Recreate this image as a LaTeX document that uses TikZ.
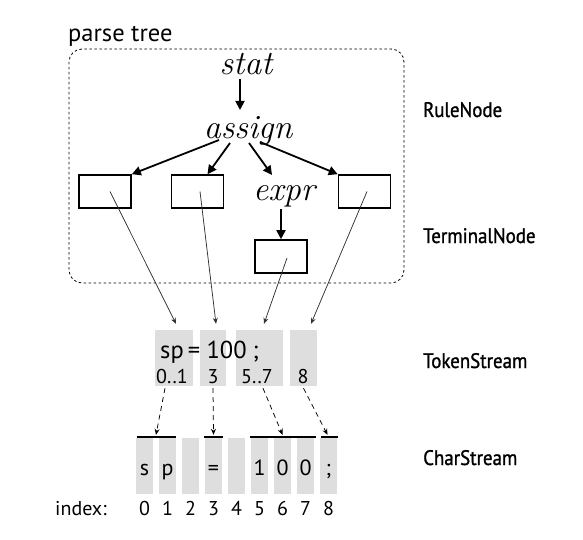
\documentclass[tikz,border=0pt]{standalone}
\usepackage{fontspec}
\setsansfont{PT Sans}
\newfontfamily\condf[FakeStretch=0.9,FakeBold=1.2]{PT Sans}
\usetikzlibrary{arrows.meta,calc}
\begin{document}
\begin{tikzpicture}[x=1pt,y=-1pt,
  lbl/.style={font=\sffamily\fontsize{24.5}{28}\selectfont, inner sep=0pt, anchor=base west},
  side/.style={font=\condf\fontsize{21}{24}\selectfont, inner sep=0pt, anchor=base west},
  rulen/.style={font=\rmfamily\itshape\fontsize{34}{38}\selectfont, inner sep=0pt},
  tnode/.style={draw, line width=1.6pt, minimum width=52pt, minimum height=33pt, inner sep=0pt},
  tarrow/.style={line width=1.8pt, -{Triangle[length=9pt,width=9pt]}},
  thinarr/.style={line width=0.75pt, draw=black!80, -{Stealth[length=6pt,width=5pt]}},
  dasharr/.style={line width=0.75pt, dash pattern=on 5pt off 4pt, -{Stealth[length=6pt,width=5pt]}},
  tokcell/.style={fill=black!13, inner sep=0pt, minimum height=56pt},
  cell/.style={fill=black!13, inner sep=0pt, minimum width=17pt, minimum height=56pt},
  chartxt/.style={font=\sffamily\fontsize{22}{24}\selectfont, inner sep=0pt, anchor=base},
  idx/.style={font=\sffamily\fontsize{20}{22}\selectfont, inner sep=0pt, anchor=base},
  toklbl/.style={font=\sffamily\fontsize{20}{22}\selectfont, inner sep=0pt, anchor=base},
  bar/.style={line width=2pt},
  dbox/.style={line width=0.8pt, dash pattern=on 2.5pt off 2.5pt, rounded corners=13pt}]
\useasboundingbox (0,0) rectangle (583,540);

% parse tree box
\node[lbl] (ptl) at (68,42) {parse tree};
\draw[dbox] (69,49) rectangle (404,283);

% rule nodes
\node[rulen] (stat) at (246,64) {stat};
\node[rulen] (assign) at (248,131) {assign};
\node[rulen] (expr) at (284,196) {expr};

% terminal nodes
\node[tnode] (t1) at (105,191.5) {};
\node[tnode] (t2) at (197.5,191.5) {};
\node[tnode] (t4) at (364.5,191.5) {};
\node[tnode] (t5) at (281,256.5) {};

\draw[tarrow] ($(stat)+(-6,15)$) -- ($(assign)+(-8,-21)$);
\draw[tarrow] ($(assign)+(-29,9)$) -- (t1.north east);
\draw[tarrow] ($(assign)+(-18,12)$) -- ($(t2.north)+(10,0)$);
\draw[tarrow] ($(assign)+(1,12)$) -- ($(expr)+(-12,-21)$);
\draw[tarrow] ($(assign)+(12,11)$) -- (t4.north west);
\draw[tarrow] ($(expr)+(-3,13)$) -- (t5.north);

% side labels
\node[side] (rn) at (423,117) {RuleNode};
\node[side] (tn) at (423,243) {TerminalNode};
\node[side] (ts) at (423,368) {TokenStream};
\node[side] (cs) at (423,465) {CharStream};

% token stream
\node[tokcell, minimum width=38pt] (tk1) at (174,358) {};
\node[tokcell, minimum width=26pt] (tk2) at (213,358) {};
\node[tokcell, minimum width=47pt] (tk3) at (259.5,358) {};
\node[tokcell, minimum width=27pt] (tk4) at (303.5,358) {};
\node[font=\sffamily\fontsize{24.5}{26}\selectfont, inner sep=0pt, anchor=base west] (toktxt) at (160,358) {sp\hspace{4pt}=\hspace{6.5pt}100\hspace{6pt};};
\node[toklbl] (l1) at (172,383) {0..1};
\node[toklbl] (l2) at (213,383) {3};
\node[toklbl] (l3) at (257,383) {5..7};
\node[toklbl] (l4) at (303,383) {8};

\draw[thinarr] ($(t1)+(5,0)$) -- ($(tk1.north)+(2,-6)$);
\draw[thinarr] ($(t2)+(2.5,0)$) -- ($(tk2.north)+(3,-6)$);
\draw[thinarr] ($(t5)+(6,1.5)$) -- ($(tk3.north)+(4.5,-6)$);
\draw[thinarr] ($(t4)+(2.5,0)$) -- ($(tk4.north)+(7.5,-6)$);

% char stream
\foreach \i/\c in {0/s,1/p,2/{},3/=,4/{},5/1,6/0,7/0,8/;} {
  \node[cell] (c\i) at (144.5+23*\i,466) {};
  \node[chartxt] (ct\i) at (144.5+23*\i,475) {\c};
  \node[idx] (ix\i) at (144.5+23*\i,515) {\i};
}
\node[lbl, font=\sffamily\fontsize{20}{22}\selectfont] (idxl) at (55,515) {index:};

\draw[bar] ($(c0.north west)+(1,-1)$) -- ($(c1.north east)+(0,-1)$);
\draw[bar] ($(c3.north west)+(-1,-1)$) -- ($(c3.north east)+(1,-1)$);
\draw[bar] ($(c5.north west)+(-1,-1)$) -- ($(c7.north east)+(2,-1)$);
\draw[bar] ($(c8.north west)+(1,-1)$) -- ($(c8.north east)+(1,-1)$);

\draw[dasharr] ($(tk1.south)+(-9,2)$) -- ($(c0.north east)!0.5!(c1.north west)+(0,-3)$);
\draw[dasharr] ($(tk2.south)+(0,2)$) -- ($(c3.north)+(0,-3)$);
\draw[dasharr] ($(tk3.south)+(3.5,2)$) -- ($(c6.north)+(0,-3)$);
\draw[dasharr] ($(tk4.south)+(0,2)$) -- ($(c8.north)+(-1,-3)$);
\end{tikzpicture}
\end{document}
